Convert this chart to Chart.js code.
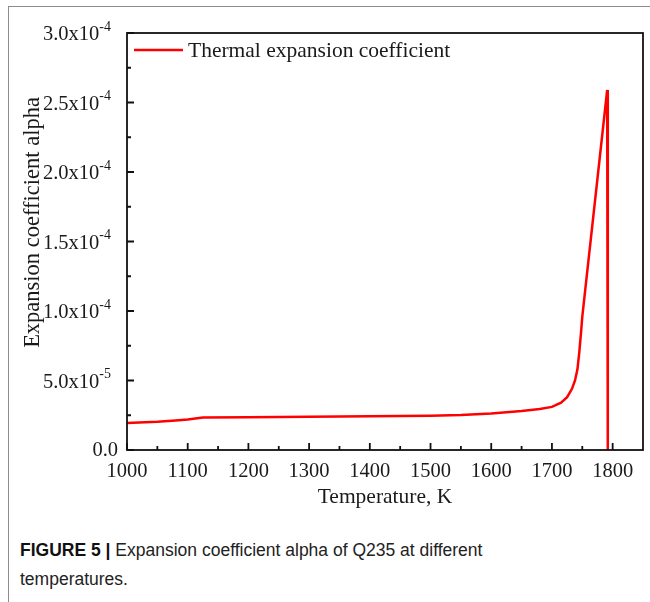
<!DOCTYPE html>
<html>
<head>
<meta charset="utf-8">
<script src="https://cdn.jsdelivr.net/npm/chart.js"></script>
<style>
  html, body { margin: 0; padding: 0; background: #fff; }
  .page { position: relative; width: 650px; height: 602px; overflow: hidden; }
  .frame { position: absolute; left: 8px; top: 6px; right: -2px; bottom: -2px;
           border-left: 1.5px solid #8c8c8c; border-top: 1.5px solid #8c8c8c; }
  canvas { position: absolute; left: 0; top: 0; }
  .caption { position: absolute; left: 20px; top: 536px; font-family: "Liberation Sans", Arial, sans-serif;
             font-size: 17.5px; line-height: 29px; color: #222; white-space: nowrap; }
  .caption b { color: #111; }
</style>
</head>
<body>
<div class="page">
  <div class="frame"></div>
  <canvas id="alphaChart" width="650" height="520"></canvas>
  <div class="caption"><b>FIGURE 5 |</b> Expansion coefficient alpha of Q235 at different<br>temperatures.</div>
</div>
<script>
// temperature, K
const temperature = [1000, 1050, 1080, 1100, 1125, 1200, 1300, 1400, 1500, 1550, 1600, 1650, 1680, 1700,
  1715, 1725, 1733, 1738, 1742, 1745, 1748, 1750, 1791, 1792];
// thermal expansion coefficient, 1/K
const alpha = [1.95e-5, 2.04e-5, 2.13e-5, 2.2e-5, 2.34e-5, 2.36e-5, 2.39e-5, 2.43e-5, 2.47e-5, 2.52e-5, 2.62e-5,
  2.8e-5, 2.95e-5, 3.1e-5, 3.4e-5, 3.8e-5, 4.4e-5, 5.0e-5, 5.8e-5, 7.0e-5, 8.5e-5, 9.6e-5, 2.59e-4, 0];

const xTickValues = [1000, 1100, 1200, 1300, 1400, 1500, 1600, 1700, 1800];
const yTickValues = [0, 5e-5, 1e-4, 1.5e-4, 2e-4, 2.5e-4, 3e-4];
const seriesLabel = "Thermal expansion coefficient";
const yTitle = "Expansion coefficient alpha";

const SERIF = '"Liberation Serif", "Times New Roman", serif';
const TEXT = "#1a1a1a";

function supLabel(v) {
  if (v === 0) return ["0.0", ""];
  const [m, e] = v.toExponential(1).split("e");
  return [m + "x10", e.replace("+", "")];
}

const framePlugin = {
  id: "frame",
  afterDraw(chart) {
    const { ctx, chartArea: a, scales: { x, y } } = chart;
    ctx.save();
    ctx.strokeStyle = "#111";
    ctx.lineWidth = 1.8;
    ctx.strokeRect(a.left, a.top, a.right - a.left, a.bottom - a.top);

    // inward ticks, minors halfway between majors
    ctx.beginPath();
    xTickValues.forEach((v, i) => {
      const px = x.getPixelForValue(v);
      ctx.moveTo(px, a.bottom); ctx.lineTo(px, a.bottom - 7);
      const next = i < xTickValues.length - 1 ? xTickValues[i + 1] : v + (v - xTickValues[i - 1]);
      const mid = (v + next) / 2;
      if (mid < x.max) {
        const pm = x.getPixelForValue(mid);
        ctx.moveTo(pm, a.bottom); ctx.lineTo(pm, a.bottom - 4);
      }
    });
    yTickValues.forEach((v, i) => {
      const py = y.getPixelForValue(v);
      ctx.moveTo(a.left, py); ctx.lineTo(a.left + 7, py);
      if (i < yTickValues.length - 1) {
        const pm = y.getPixelForValue((v + yTickValues[i + 1]) / 2);
        ctx.moveTo(a.left, pm); ctx.lineTo(a.left + 4, pm);
      }
    });
    ctx.stroke();

    // y tick labels with superscript exponent
    ctx.fillStyle = TEXT;
    ctx.textBaseline = "middle";
    ctx.textAlign = "right";
    yTickValues.forEach(v => {
      const py = y.getPixelForValue(v);
      const [base, exp] = supLabel(v);
      if (!exp) {
        ctx.font = "20.5px " + SERIF;
        ctx.fillText(base, a.left - 9, py + 1);
        return;
      }
      const right = a.left - 16;
      ctx.font = "14px " + SERIF;
      const ew = ctx.measureText(exp).width;
      ctx.fillText(exp, right, py - 6);
      ctx.font = "20.5px " + SERIF;
      ctx.fillText(base, right - ew, py + 2);
    });

    // y axis title
    ctx.save();
    ctx.translate(33, (a.top + a.bottom) / 2 - 19);
    ctx.rotate(-Math.PI / 2);
    ctx.textAlign = "center";
    ctx.font = "22.5px " + SERIF;
    ctx.fillText(yTitle, 0, 0);
    ctx.restore();

    // legend inside the frame
    const ds = chart.data.datasets[0];
    ctx.strokeStyle = ds.borderColor;
    ctx.lineWidth = 2.5;
    ctx.beginPath();
    ctx.moveTo(a.left + 7, a.top + 17);
    ctx.lineTo(a.left + 56, a.top + 17);
    ctx.stroke();
    ctx.font = "21.5px " + SERIF;
    ctx.textAlign = "left";
    ctx.fillText(ds.label, a.left + 61, a.top + 18);
    ctx.restore();
  }
};

new Chart(document.getElementById("alphaChart"), {
  type: "line",
  data: {
    datasets: [{
      label: seriesLabel,
      data: temperature.map((t, i) => ({ x: t, y: alpha[i] })),
      borderColor: "#ff0000",
      borderWidth: 2.5,
      pointRadius: 0,
      tension: 0,
      fill: false
    }]
  },
  options: {
    responsive: false,
    animation: false,
    layout: { padding: { top: 33, right: 7, left: 0, bottom: 0 } },
    plugins: { legend: { display: false }, tooltip: { enabled: false } },
    scales: {
      x: {
        type: "linear",
        min: 1000,
        max: 1850,
        grid: { display: false, drawTicks: false },
        border: { display: false },
        afterBuildTicks: s => { s.ticks = xTickValues.map(v => ({ value: v })); },
        afterFit: s => { s.height = 70; },
        ticks: {
          padding: 9,
          color: TEXT,
          maxRotation: 0,
          font: { family: SERIF, size: 20.5 },
          callback: v => String(v)
        },
        title: {
          display: true,
          text: "Temperature, K",
          color: TEXT,
          font: { family: SERIF, size: 21.5 },
          padding: { top: 4, bottom: 10 }
        }
      },
      y: {
        type: "linear",
        min: 0,
        max: 3e-4,
        grid: { display: false, drawTicks: false },
        border: { display: false },
        afterBuildTicks: s => { s.ticks = yTickValues.map(v => ({ value: v })); },
        afterFit: s => { s.width = 127; },
        ticks: { display: false },
        title: { display: false }
      }
    }
  },
  plugins: [framePlugin]
});
</script>
</body>
</html>
